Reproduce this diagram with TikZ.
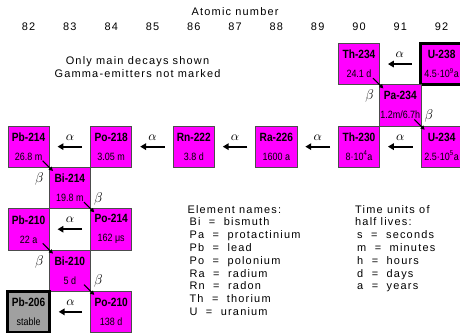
\documentclass[tikz,border=0pt]{standalone}
\usepackage{fontspec}
\setmainfont{Liberation Sans}
\newfontfamily\labelfont{Liberation Sans}[LetterSpace=11]
\newfontfamily\isofont{Liberation Sans}[FakeStretch=0.85]
\usetikzlibrary{arrows.meta}
\definecolor{nuclmagenta}{RGB}{255,0,255}
\definecolor{stablegray}{RGB}{160,160,160}
\newcommand{\halflife}[1]{{\fontsize{9}{16.2}\selectfont\mdseries #1}}

\begin{document}
\begin{tikzpicture}[
  x=1.239cm, y=-1.239cm,
  isobox/.style={draw=black!70, line width=0.6pt, fill=nuclmagenta, minimum width=1.239cm, minimum height=1.239cm, inner sep=0pt, align=center, font={\fontsize{10.2}{16.2}\isofont\bfseries}},
  parentbox/.style={isobox, draw=black, line width=2.5pt},
  stablebox/.style={parentbox, fill=stablegray},
  labelnode/.style={inner sep=0pt, font={\fontsize{9.35}{10.9}\labelfont}},
  alphaarr/.style={-{Triangle[length=5pt,width=5.5pt]}, line width=1.8pt, shorten <=6.8pt, shorten >=6.8pt},
  betaarr/.style={-{Triangle[length=3.5pt,width=3.5pt]}, line width=0.9pt, shorten <=17pt, shorten >=20.4pt},
  alphalbl/.style={midway, above=4.6pt, inner sep=0pt, font=\fontsize{10.5}{12}\selectfont},
  betalbl/.style={pos=.5, inner sep=0pt, font=\fontsize{11.5}{13}\selectfont}
]
\useasboundingbox (-0.6925,-1.551) rectangle (10.446,6.512);

% header
\node[labelnode] (title) at (5,-1.26) {Atomic number};
\node[labelnode] (z82) at (0,-0.897) {82};
\node[labelnode] (z83) at (1,-0.897) {83};
\node[labelnode] (z84) at (2,-0.897) {84};
\node[labelnode] (z85) at (3,-0.897) {85};
\node[labelnode] (z86) at (4,-0.897) {86};
\node[labelnode] (z87) at (5,-0.897) {87};
\node[labelnode] (z88) at (6,-0.897) {88};
\node[labelnode] (z89) at (7,-0.897) {89};
\node[labelnode] (z90) at (8,-0.897) {90};
\node[labelnode] (z91) at (9,-0.897) {91};
\node[labelnode] (z92) at (10,-0.897) {92};

\node[labelnode, align=center, font={\fontsize{9.35}{11}\labelfont}] (note) at (2.637,0.084) {Only main decays shown\\Gamma-emitters not marked};

% isotopes
\node[parentbox] (u238) at (10,0) {U-238\\\halflife{4.5·10\textsuperscript{9}a}};
\node[isobox] (th234) at (8,0) {Th-234\\\halflife{24.1 d}};
\node[isobox] (pa234) at (9,1) {Pa-234\\\halflife{1.2m/6.7h}};
\node[isobox] (u234) at (10,2) {U-234\\\halflife{2.5·10\textsuperscript{5}a}};
\node[isobox] (th230) at (8,2) {Th-230\\\halflife{8·10\textsuperscript{4}a}};
\node[isobox] (ra226) at (6,2) {Ra-226\\\halflife{1600 a}};
\node[isobox] (rn222) at (4,2) {Rn-222\\\halflife{3.8 d}};
\node[isobox] (po218) at (2,2) {Po-218\\\halflife{3.05 m}};
\node[isobox] (pb214) at (0,2) {Pb-214\\\halflife{26.8 m}};
\node[isobox] (bi214) at (1,3) {Bi-214\\\halflife{19.8 m}};
\node[isobox] (po214) at (2,4) {Po-214\\\halflife{162 μs}};
\node[isobox] (pb210) at (0,4) {Pb-210\\\halflife{22 a}};
\node[isobox] (bi210) at (1,5) {Bi-210\\\halflife{5 d}};
\node[isobox] (po210) at (2,6) {Po-210\\\halflife{138 d}};
\node[stablebox] (pb206) at (0,6) {Pb-206\\\halflife{stable}};

% alpha decays
\draw[alphaarr] (u238) -- (th234) node[alphalbl] {$\alpha$};
\draw[alphaarr] (u234) -- (th230) node[alphalbl] {$\alpha$};
\draw[alphaarr] (th230) -- (ra226) node[alphalbl] {$\alpha$};
\draw[alphaarr] (ra226) -- (rn222) node[alphalbl] {$\alpha$};
\draw[alphaarr] (rn222) -- (po218) node[alphalbl] {$\alpha$};
\draw[alphaarr] (po218) -- (pb214) node[alphalbl] {$\alpha$};
\draw[alphaarr] (po214) -- (pb210) node[alphalbl] {$\alpha$};
\draw[alphaarr] (po210) -- (pb206) node[alphalbl] {$\alpha$};

% beta decays
\draw[betaarr] (th234.center) -- (pa234.center) node[betalbl, xshift=-8.5pt, yshift=-10pt] {$\beta$};
\draw[betaarr] (pa234.center) -- (u234.center) node[betalbl, xshift=6.8pt, yshift=8.5pt] {$\beta$};
\draw[betaarr] (pb214.center) -- (bi214.center) node[betalbl, xshift=-8.5pt, yshift=-10pt] {$\beta$};
\draw[betaarr] (bi214.center) -- (po214.center) node[betalbl, xshift=6.8pt, yshift=8.5pt] {$\beta$};
\draw[betaarr] (pb210.center) -- (bi210.center) node[betalbl, xshift=-8.5pt, yshift=-10pt] {$\beta$};
\draw[betaarr] (bi210.center) -- (po210.center) node[betalbl, xshift=6.8pt, yshift=8.5pt] {$\beta$};

% legend
\node[labelnode, align=left, anchor=north west] (names) at (3.843,3.413) {Element names:\\\hspace*{1.7pt}Bi\ \ =\ \ bismuth\\\hspace*{1.7pt}Pa\ \ =\ \ protactinium\\\hspace*{1.7pt}Pb\ \ =\ \ lead\\\hspace*{1.7pt}Po\ \ =\ \ polonium\\\hspace*{1.7pt}Ra\ \ =\ \ radium\\\hspace*{1.7pt}Rn\ \ =\ \ radon\\\hspace*{1.7pt}Th\ \ =\ \ thorium\\\hspace*{1.7pt}U\ \ =\ \ uranium};
\node[labelnode, align=left, anchor=north west] (units) at (7.903,3.413) {Time units of\\half lives:\\\hspace*{1.7pt}s\ \ =\ \ seconds\\\hspace*{1.7pt}m\ \ =\ \ minutes\\\hspace*{1.7pt}h\ \ =\ \ hours\\\hspace*{1.7pt}d\ \ =\ \ days\\\hspace*{1.7pt}a\ \ =\ \ years};
\end{tikzpicture}
\end{document}
